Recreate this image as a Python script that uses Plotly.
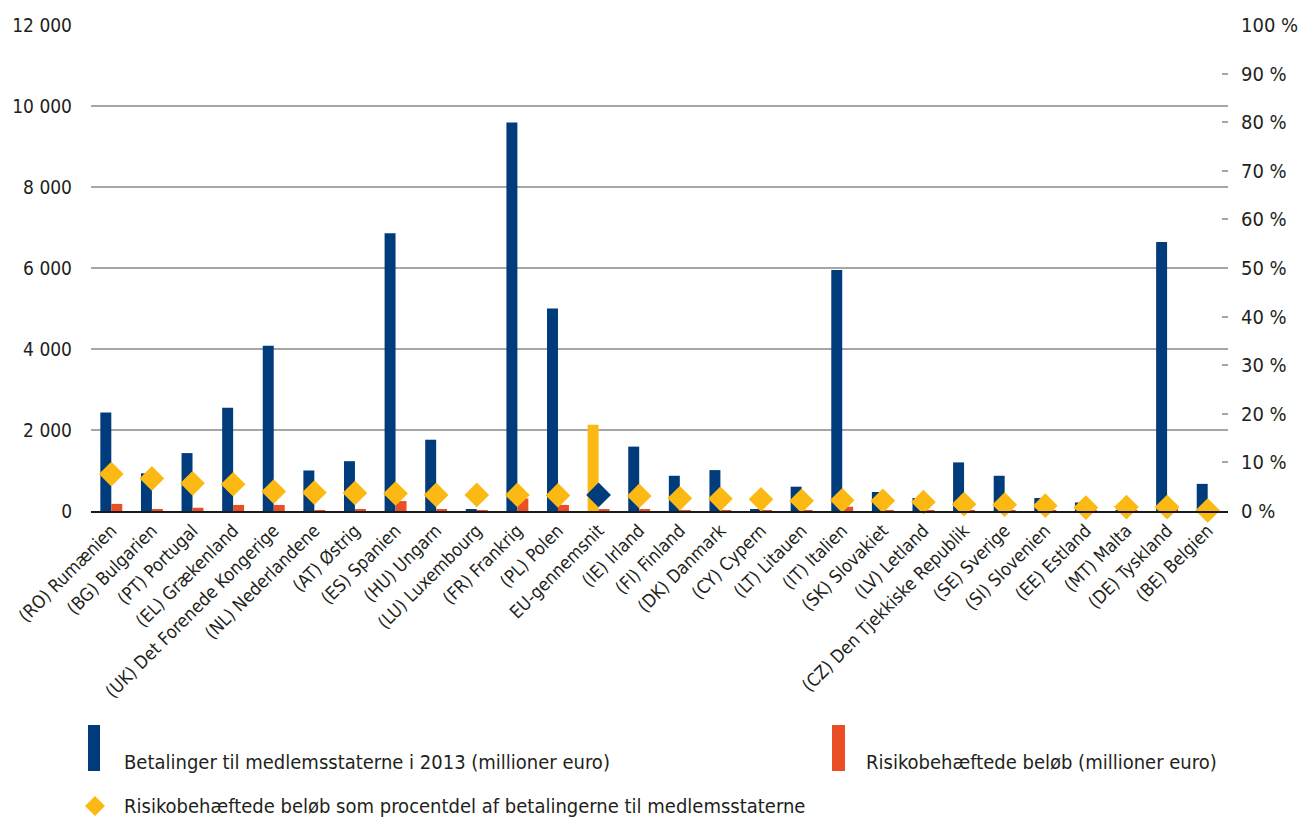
import plotly.graph_objects as go

# Member states (plus EU average), in the order shown
categories = [
    "(RO) Rumænien", "(BG) Bulgarien", "(PT) Portugal", "(EL) Grækenland",
    "(UK) Det Forenede Kongerige", "(NL) Nederlandene", "(AT) Østrig",
    "(ES) Spanien", "(HU) Ungarn", "(LU) Luxembourg", "(FR) Frankrig",
    "(PL) Polen", "EU-gennemsnit", "(IE) Irland", "(FI) Finland",
    "(DK) Danmark", "(CY) Cypern", "(LT) Litauen", "(IT) Italien",
    "(SK) Slovakiet", "(LV) Letland", "(CZ) Den Tjekkiske Republik",
    "(SE) Sverige", "(SI) Slovenien", "(EE) Estland", "(MT) Malta",
    "(DE) Tyskland", "(BE) Belgien",
]

# Payments to member states in 2013 (million euro)
payments = [
    2430, 930, 1430, 2550, 4080, 1000, 1230, 6860, 1760, 30, 9590,
    5000, 2130, 1590, 870, 1010, 50, 600, 5950, 470, 320, 1200,
    870, 320, 210, 20, 6640, 670,
]

# Amounts at risk (million euro)
at_risk = [
    175, 40, 80, 150, 150, 15, 40, 245, 40, 5, 310,
    150, 45, 40, 12, 12, 5, 12, 105, 5, 5, 12,
    12, 5, 3, 2, 45, 3,
]

# Amounts at risk as a percentage of payments
risk_pct = [
    7.6, 6.7, 5.7, 5.5, 4.0, 3.8, 3.7, 3.6, 3.3, 3.3, 3.3,
    3.2, 3.3, 3.1, 2.6, 2.5, 2.4, 2.1, 2.2, 2.1, 1.85, 1.4,
    1.3, 1.1, 0.7, 0.8, 0.8, 0.1,
]

left_ticks = [0, 2000, 4000, 6000, 8000, 10000, 12000]
left_tick_text = ["0", "2 000", "4 000", "6 000", "8 000", "10 000", "12 000"]
right_ticks = list(range(0, 101, 10))
right_tick_text = [f"{v} %" for v in right_ticks]

NAVY = "#003B7B"
ORANGE = "#E94E24"
YELLOW = "#FDB913"
TEXT = "#231F20"
GRID = "#A6A6A6"
FONT = "Liberation Sans Narrow, DejaVu Sans Condensed, Arial Narrow, sans-serif"

pay_colors = [YELLOW if c == "EU-gennemsnit" else NAVY for c in categories]
pct_colors = [NAVY if c == "EU-gennemsnit" else YELLOW for c in categories]

fig = go.Figure()
fig.add_trace(go.Bar(
    x=categories, y=payments, marker=dict(color=pay_colors, line=dict(width=0)),
    name="Betalinger til medlemsstaterne i 2013 (millioner euro)", showlegend=False,
))
fig.add_trace(go.Bar(
    x=categories, y=at_risk, marker=dict(color=ORANGE, line=dict(width=0)),
    name="Risikobehæftede beløb (millioner euro)", showlegend=False,
))
fig.add_trace(go.Scatter(
    x=categories, y=risk_pct, yaxis="y2", mode="markers",
    marker=dict(symbol="diamond", size=19, color=pct_colors, line=dict(width=0)),
    name="Risikobehæftede beløb som procentdel af betalingerne til medlemsstaterne",
    showlegend=False, cliponaxis=False,
))

W, H = 1314, 821
L, R, T, B = 91, 86, 25, 310
pw, ph = W - L - R, H - T - B


def px(x):
    return (x - L) / pw


def py(y):
    return (H - B - y) / ph


shapes = [
    # legend keys
    dict(type="rect", xref="paper", yref="paper", x0=px(88), x1=px(100),
         y0=py(771), y1=py(725), fillcolor=NAVY, line=dict(width=0)),
    dict(type="rect", xref="paper", yref="paper", x0=px(832), x1=px(845),
         y0=py(771), y1=py(725), fillcolor=ORANGE, line=dict(width=0)),
    dict(type="path", xref="paper", yref="paper",
         path=(f"M {px(85)} {py(806)} L {px(95)} {py(796)} "
               f"L {px(105)} {py(806)} L {px(95)} {py(816)} Z"),
         fillcolor=YELLOW, line=dict(width=0)),
]

annotations = [
    dict(text="Betalinger til medlemsstaterne i 2013 (millioner euro)",
         xref="paper", yref="paper", x=px(122), y=py(762),
         xanchor="left", yanchor="middle", showarrow=False),
    dict(text="Risikobehæftede beløb (millioner euro)",
         xref="paper", yref="paper", x=px(864), y=py(762),
         xanchor="left", yanchor="middle", showarrow=False),
    dict(text="Risikobehæftede beløb som procentdel af betalingerne til medlemsstaterne",
         xref="paper", yref="paper", x=px(122), y=py(806),
         xanchor="left", yanchor="middle", showarrow=False),
]

fig.update_layout(
    width=W, height=H,
    margin=dict(l=L, r=R, t=T, b=B, pad=0),
    paper_bgcolor="white", plot_bgcolor="white",
    font=dict(family=FONT, size=20, color=TEXT),
    barmode="group", bargap=0.46, bargroupgap=0,
    xaxis=dict(
        type="category", range=[-0.5, len(categories) - 0.5],
        tickangle=-45, showgrid=False, ticks="",
        showline=True, linecolor="#1a1a1a", linewidth=2,
        tickfont=dict(size=18, color=TEXT), automargin=False,
    ),
    yaxis=dict(
        range=[0, 12000], tickvals=left_ticks, ticktext=left_tick_text,
        showgrid=True, gridcolor=GRID, gridwidth=1.5, zeroline=False,
        ticks="", ticklabelstandoff=18, tickfont=dict(size=19, color=TEXT),
        showline=False, automargin=False,
    ),
    yaxis2=dict(
        range=[0, 100], overlaying="y", side="right",
        tickvals=right_ticks, ticktext=right_tick_text,
        showgrid=False, zeroline=False, showline=False,
        ticks="inside", ticklen=6, tickcolor=GRID, tickwidth=1.5,
        ticklabelstandoff=12, tickfont=dict(size=20, color=TEXT), automargin=False,
    ),
    shapes=shapes,
    annotations=annotations,
)

fig.write_html("out.html")
